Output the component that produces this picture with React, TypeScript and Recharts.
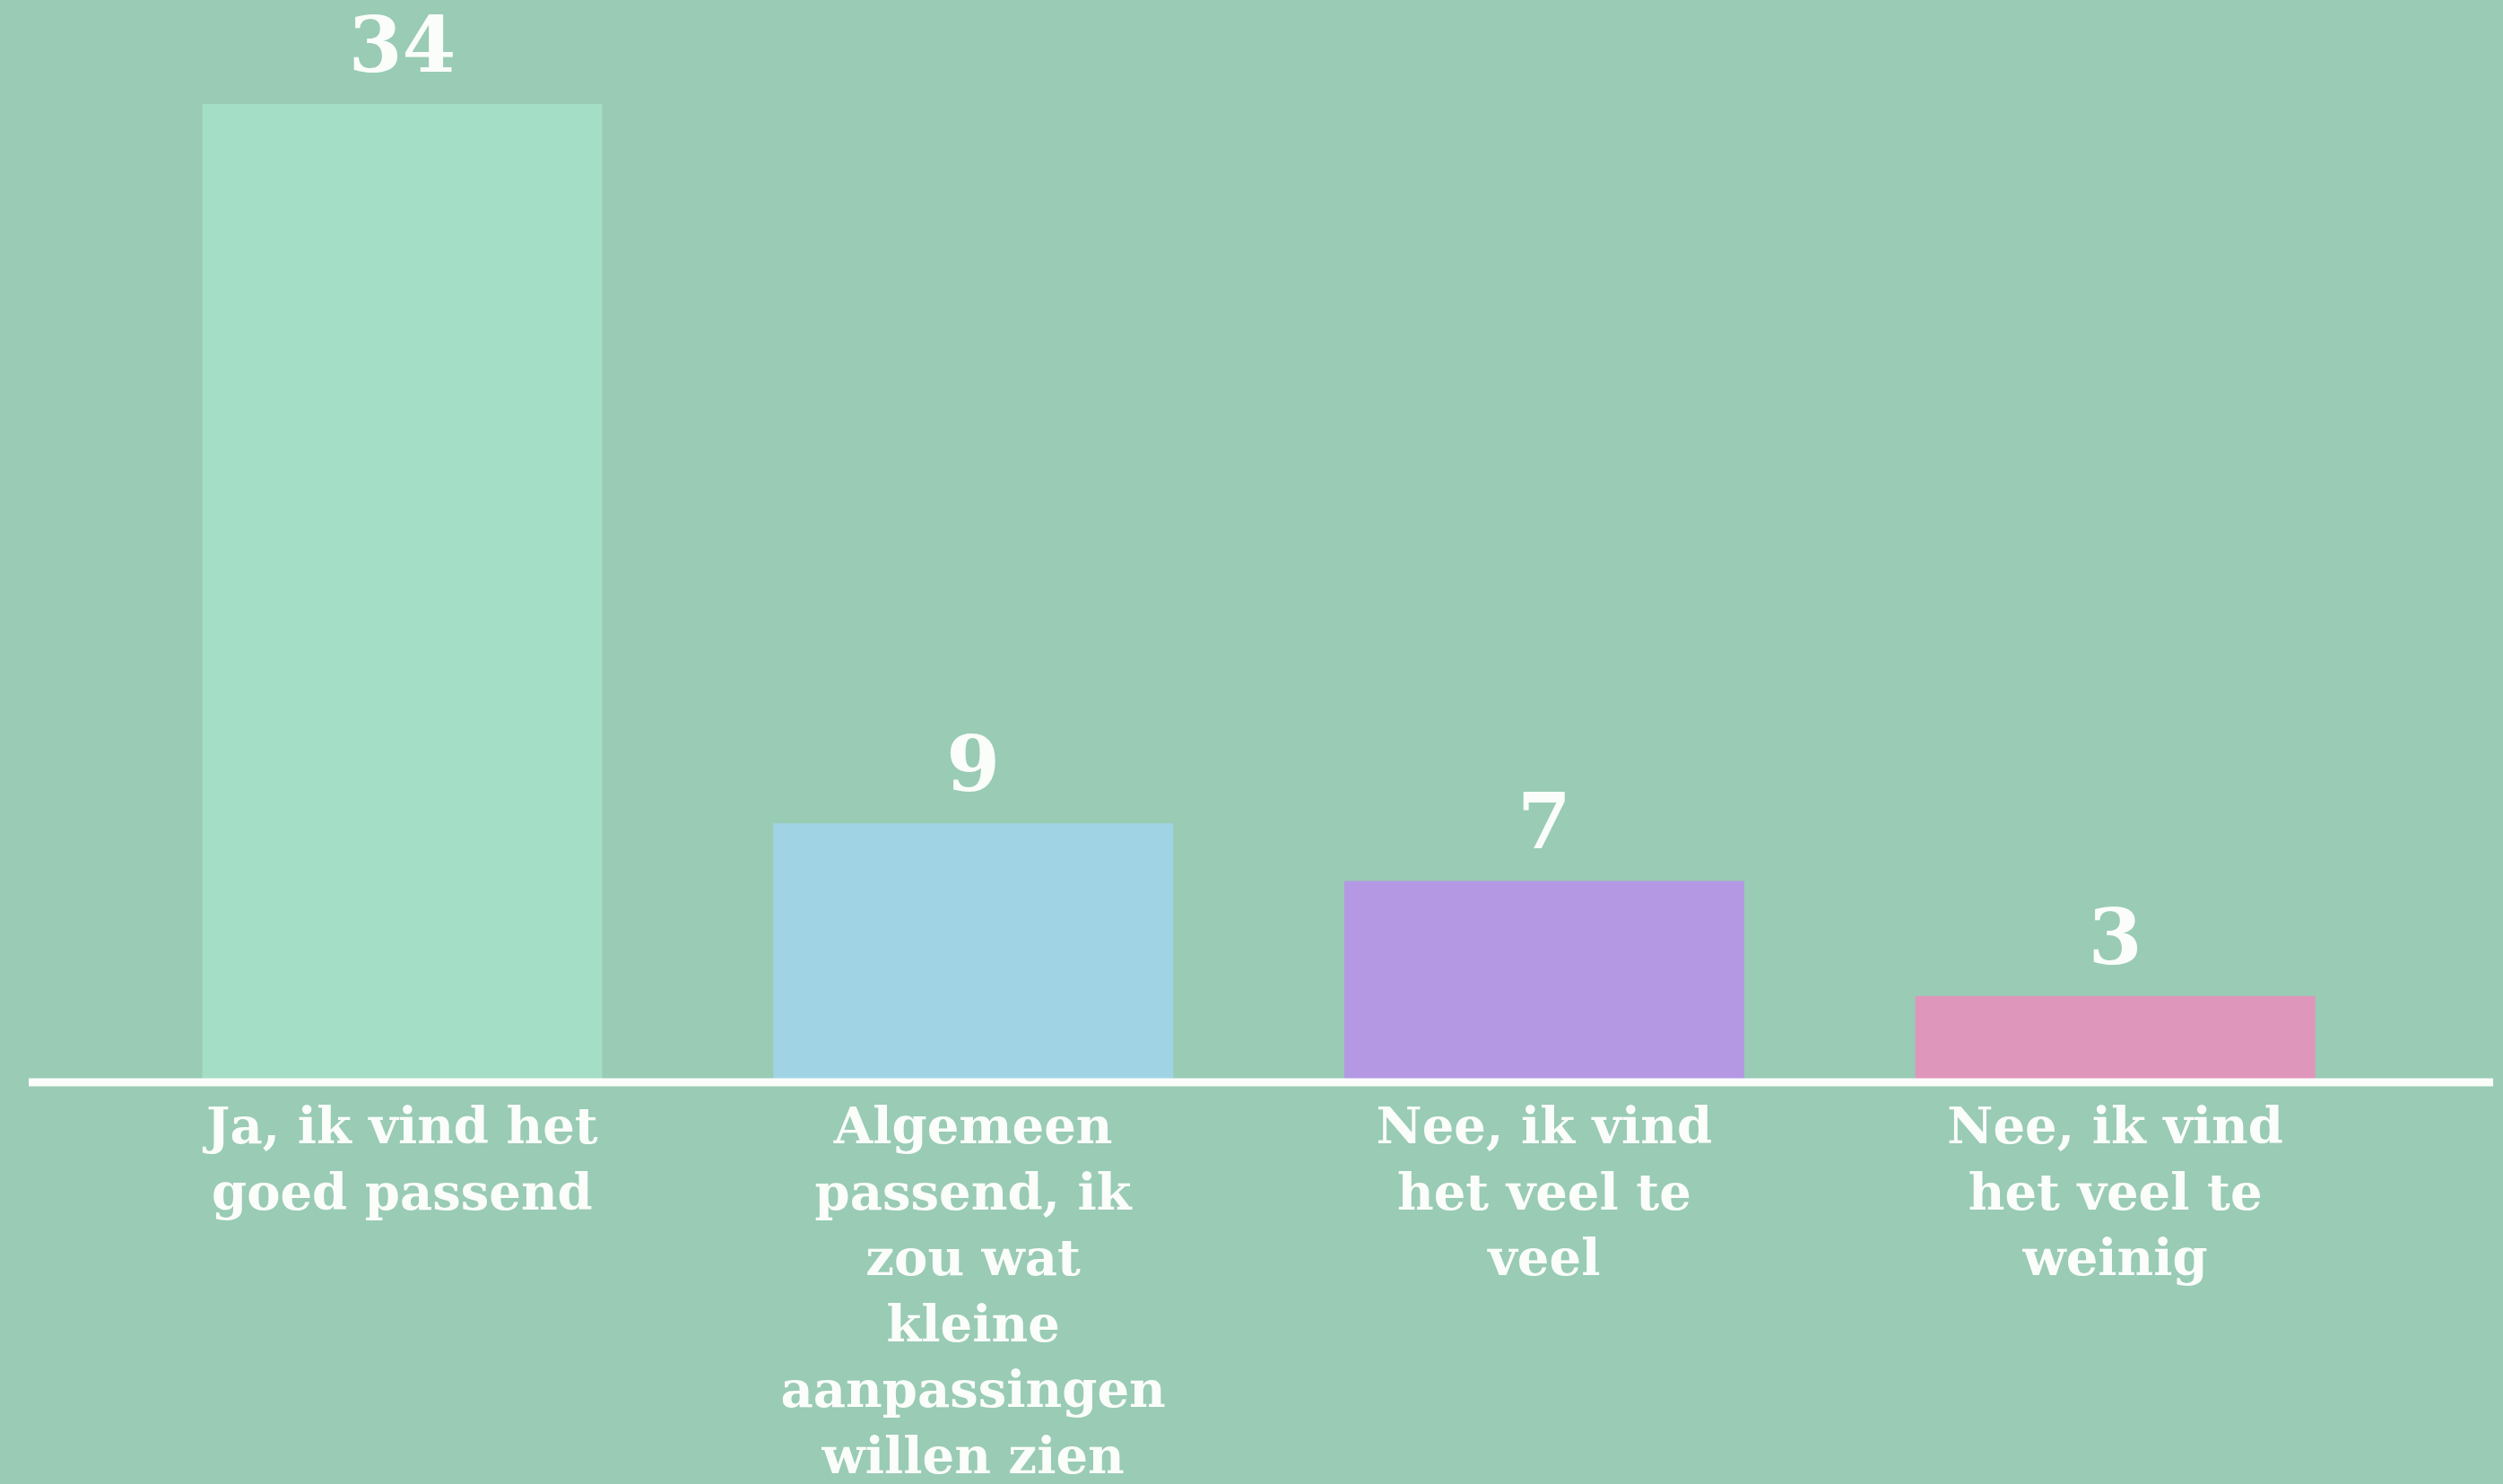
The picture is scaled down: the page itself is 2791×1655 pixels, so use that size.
import { Bar, BarChart, Cell, LabelList, XAxis, YAxis } from 'recharts'

// categories (line breaks as they appear under each bar)
const categories = [
    'Ja, ik vind het\ngoed passend',
    'Algemeen\npassend, ik\nzou wat\nkleine\naanpassingen\nwillen zien',
    'Nee, ik vind\nhet veel te\nveel',
    'Nee, ik vind\nhet veel te\nweinig',
]
const counts = [34, 9, 7, 3]
const barColors = ['#a5dec6', '#a0d4e5', '#b598e3', '#df96bb']

const data = categories.map((name, i) => ({ name, count: counts[i] }))

const FONT = '"DejaVu Serif", serif'
const WHITE = '#fbfdfb'

const WrappedTick = (props: any) => {
    const { x, y, payload } = props
    const lines = String(payload.value).split('\n')
    return (
        <text x={x} y={y} textAnchor="middle" fill={WHITE} fontFamily={FONT} fontWeight="bold" fontSize={56}>
            {lines.map((line, i) => (
                <tspan key={i} x={x} dy={i === 0 ? 68 : 73.5}>
                    {line}
                </tspan>
            ))}
        </text>
    )
}

const ValueLabel = (props: any) => {
    const { x, y, width, value } = props
    return (
        <text x={x + width / 2} y={y - 36} textAnchor="middle" fill={WHITE} fontFamily={FONT} fontWeight="bold" fontSize={86}>
            {value}
        </text>
    )
}

const App = () => {
    return (
        <div style={{ position: 'absolute', left: 0, top: 0, width: 2791, height: 1655, background: '#99cbb5' }}>
            <BarChart
                width={2791}
                height={1655}
                data={data}
                margin={{ top: 116, right: 11, bottom: 0, left: 32 }}
                barCategoryGap="15%"
            >
                <XAxis
                    dataKey="name"
                    height={448}
                    padding={{ left: 98, right: 103 }}
                    axisLine={{ stroke: '#fbfdfb', strokeWidth: 9 }}
                    tickLine={false}
                    tickSize={0}
                    tickMargin={0}
                    interval={0}
                    tick={<WrappedTick />}
                />
                <YAxis hide domain={[0, 34]} />
                <Bar dataKey="count" isAnimationActive={false}>
                    {data.map((d, i) => (
                        <Cell key={d.name} fill={barColors[i]} />
                    ))}
                    <LabelList dataKey="count" content={<ValueLabel />} />
                </Bar>
            </BarChart>
        </div>
    )
}

export default App
